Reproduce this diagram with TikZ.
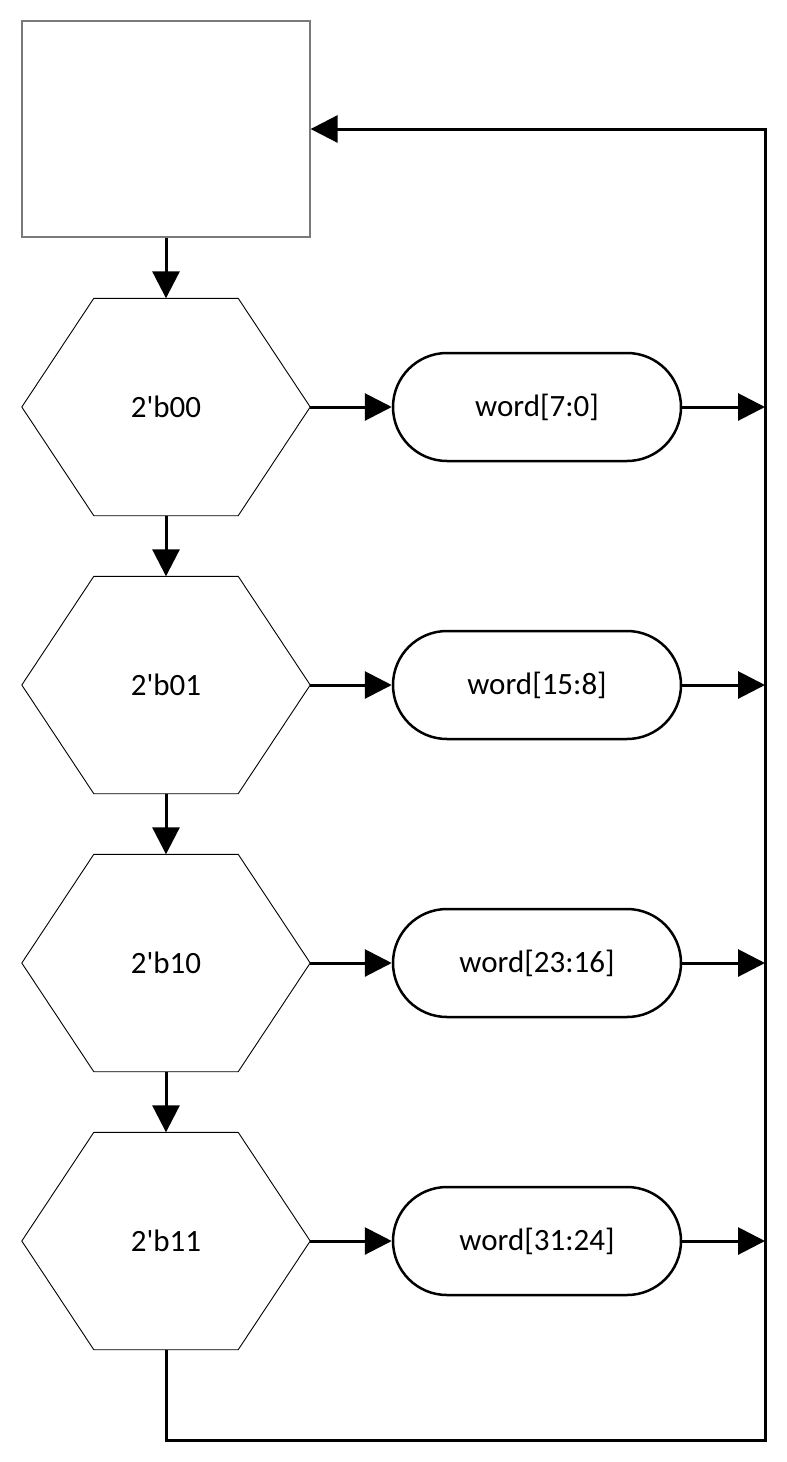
\documentclass[tikz,border=0pt]{standalone}
\usepackage{fontspec}
\setmainfont{Carlito}
\usetikzlibrary{arrows.meta}
\begin{document}
\begin{tikzpicture}[x=1pt,y=-1pt,
  flow/.style={line width=3pt,-{Triangle[length=27pt,width=27pt]}},
  hexbox/.style={draw=none,minimum width=288pt,minimum height=217pt,inner sep=0pt,font=\fontsize{31}{36}\selectfont},
  pill/.style={draw,line width=2.5pt,rounded corners=54pt,minimum width=288pt,minimum height=108pt,inner sep=0pt,font=\fontsize{31}{36}\selectfont},
  startbox/.style={draw=black!52,line width=1.3pt,minimum width=288pt,minimum height=216pt,inner sep=0pt}]
\useasboundingbox (0,0) rectangle (787,1462);
\node[startbox] (box) at (166,129) {};
\foreach \i/\y/\lab/\w in {1/407/00/word[7:0], 2/685/01/word[15:8], 3/963/10/word[23:16], 4/1241/11/word[31:24]}{
  \node[hexbox] (h\i) at (166,\y) {2\textquotesingle b\lab};
  \draw[line width=0.9pt,line join=miter] ([xshift=72pt]h\i.north west) -- ([xshift=-72pt]h\i.north east) -- (h\i.east) -- ([xshift=-72pt]h\i.south east) -- ([xshift=72pt]h\i.south west) -- (h\i.west) -- cycle;
  \node[pill] (w\i) at (537,\y) {\w};
  \coordinate (j\i) at (765,\y);
  \draw[flow] (h\i.east) -- (w\i.west);
  \draw[flow] (w\i.east) -- (j\i);
}
\draw[flow] (box.south) -- (h1.north);
\draw[flow] (h1.south) -- (h2.north);
\draw[flow] (h2.south) -- (h3.north);
\draw[flow] (h3.south) -- (h4.north);
\coordinate (bl) at (166,1440);
\coordinate (br) at (765,1440);
\coordinate (tr) at (765,129);
\draw[flow,line join=miter] (h4.south) -- (bl) -- (br) -- (tr) -- (box.east);
\end{tikzpicture}
\end{document}
